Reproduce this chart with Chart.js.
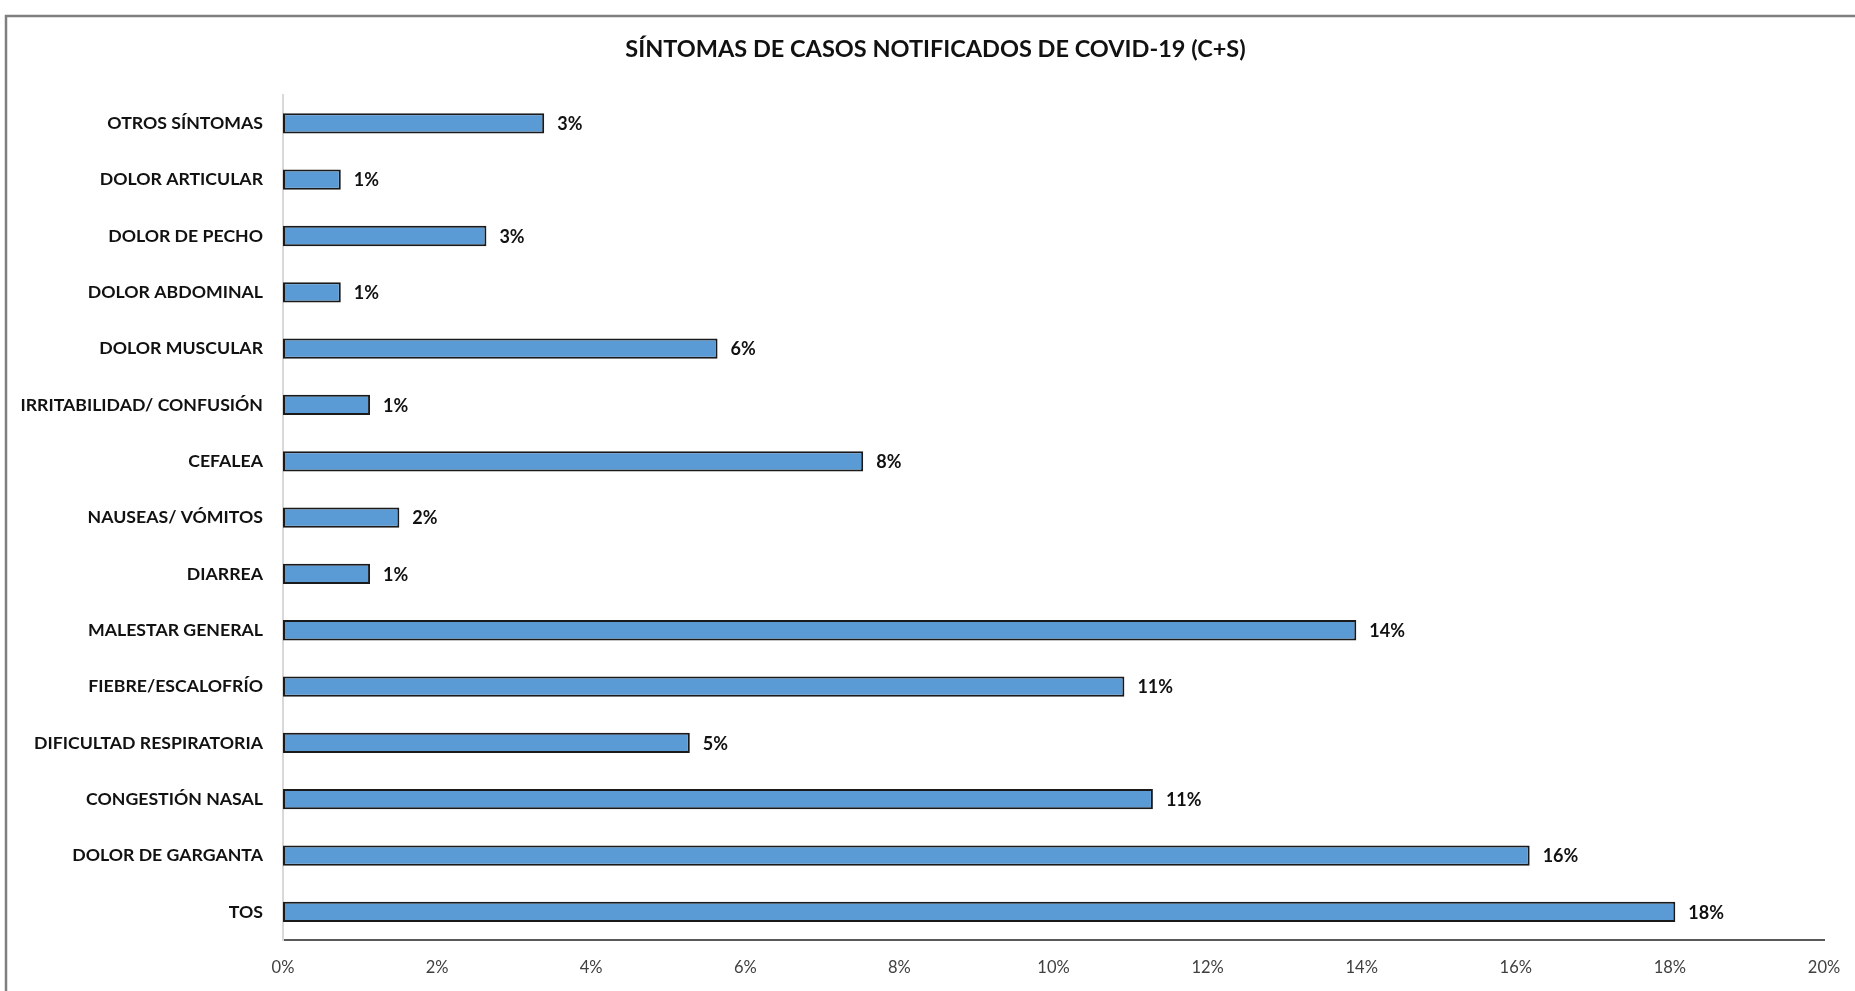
<!DOCTYPE html>
<html>
<head>
<meta charset="utf-8">
<script src="https://cdn.jsdelivr.net/npm/chart.js@4/dist/chart.umd.min.js"></script>
<style>
  html, body { margin: 0; padding: 0; background: #ffffff; }
  #wrap { width: 1855px; height: 991px; position: relative; }
</style>
</head>
<body>
<div id="wrap"><canvas id="c" width="1855" height="991"></canvas></div>
<script>
const titleText = 'SÍNTOMAS DE CASOS NOTIFICADOS DE COVID-19 (C+S)';
const categories = [
  'OTROS SÍNTOMAS',
  'DOLOR ARTICULAR',
  'DOLOR DE PECHO',
  'DOLOR ABDOMINAL',
  'DOLOR MUSCULAR',
  'IRRITABILIDAD/ CONFUSIÓN',
  'CEFALEA',
  'NAUSEAS/ VÓMITOS',
  'DIARREA',
  'MALESTAR GENERAL',
  'FIEBRE/ESCALOFRÍO',
  'DIFICULTAD RESPIRATORIA',
  'CONGESTIÓN NASAL',
  'DOLOR DE GARGANTA',
  'TOS'
];
const values = [3.39, 0.75, 2.64, 0.75, 5.64, 1.13, 7.53, 1.51, 1.13, 13.93, 10.92, 5.28, 11.29, 16.18, 18.07];
const valueLabels = ['3%', '1%', '3%', '1%', '6%', '1%', '8%', '2%', '1%', '14%', '11%', '5%', '11%', '16%', '18%'];
const xTicks = [0, 2, 4, 6, 8, 10, 12, 14, 16, 18, 20];

const FONT = 'Lato, "Open Sans", "DejaVu Sans", sans-serif';

const framePlugin = {
  id: 'frame',
  beforeDraw(chart) {
    const ctx = chart.ctx;
    ctx.save();
    ctx.strokeStyle = '#7f7f7f';
    ctx.lineWidth = 2.5;
    ctx.beginPath();
    ctx.moveTo(6, 991);
    ctx.lineTo(6, 16);
    ctx.lineTo(1855, 16);
    ctx.stroke();
    ctx.restore();
  }
};

const valueLabelPlugin = {
  id: 'valueLabels',
  afterDatasetsDraw(chart) {
    const ctx = chart.ctx;
    const meta = chart.getDatasetMeta(0);
    ctx.save();
    ctx.font = 'bold 18px ' + FONT;
    ctx.fillStyle = '#111111';
    ctx.textAlign = 'left';
    ctx.textBaseline = 'middle';
    meta.data.forEach((bar, i) => {
      ctx.fillText(valueLabels[i], bar.x + 13, bar.y + 1);
    });
    ctx.restore();
  }
};

new Chart(document.getElementById('c'), {
  type: 'bar',
  data: {
    labels: categories,
    datasets: [{
      data: values,
      backgroundColor: '#5B9BD5',
      borderColor: '#1a1a1a',
      borderWidth: 2,
      borderSkipped: false,
      categoryPercentage: 1,
      barPercentage: 0.36
    }]
  },
  options: {
    indexAxis: 'y',
    responsive: false,
    animation: false,
    devicePixelRatio: 1,
    layout: { padding: { left: 16, right: 0, top: 0, bottom: 0 } },
    plugins: {
      legend: { display: false },
      tooltip: { enabled: false },
      title: {
        display: true,
        text: titleText,
        color: '#111111',
        font: { family: FONT, size: 23.5, weight: 'bold' },
        padding: { top: 35, bottom: 32 }
      }
    },
    scales: {
      x: {
        min: 0,
        max: 20,
        afterBuildTicks(scale) { scale.ticks = xTicks.map(v => ({ value: v })); },
        afterFit(scale) { scale.height = 51; scale.paddingRight = 31; },
        grid: { display: false, drawTicks: false },
        border: { display: true, color: '#595959', width: 2 },
        ticks: {
          padding: 18,
          color: '#404040',
          font: { family: FONT, size: 16.5 },
          callback: v => v + '%'
        }
      },
      y: {
        afterFit(scale) { scale.width = 267; },
        grid: { display: false, drawTicks: false },
        border: { display: true, color: '#d9d9d9', width: 2 },
        ticks: {
          padding: 20,
          color: '#111111',
          font: { family: FONT, size: 17.7, weight: 'bold' }
        }
      }
    }
  },
  plugins: [framePlugin, valueLabelPlugin]
});
</script>
</body>
</html>
